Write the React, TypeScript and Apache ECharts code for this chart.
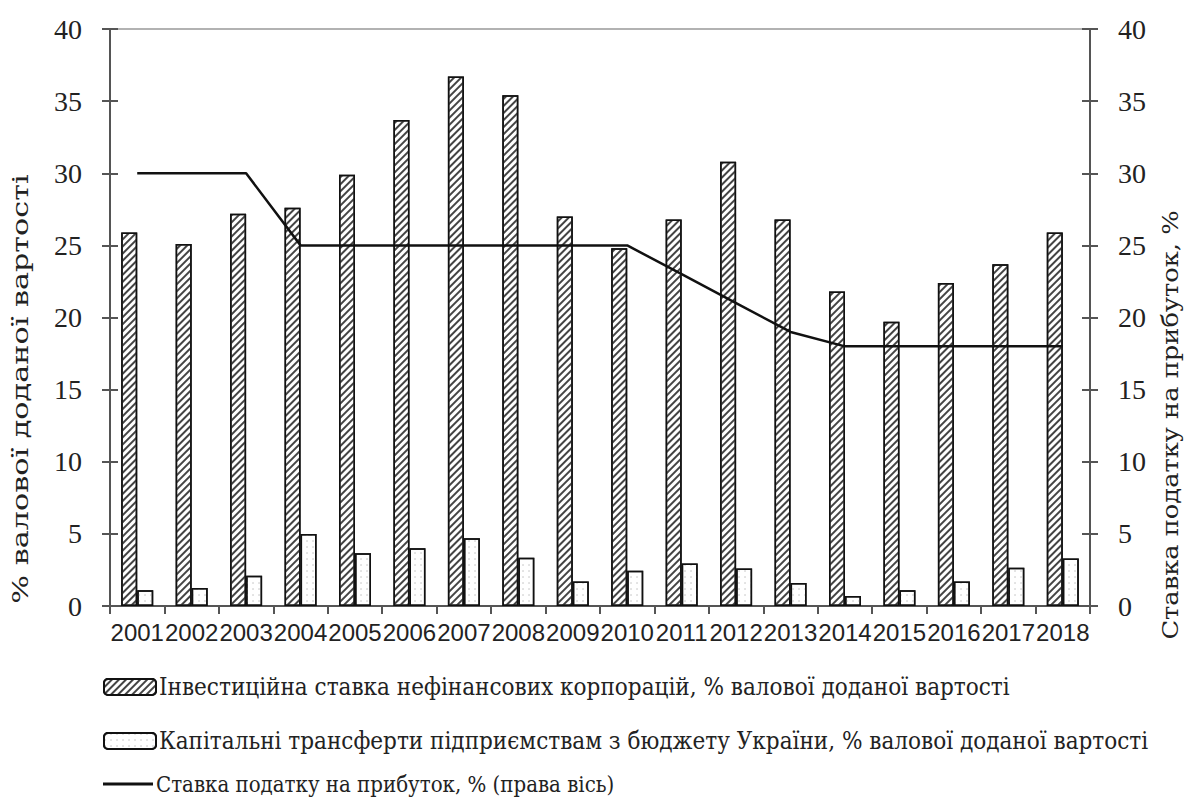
import React, { useEffect, useRef } from "react";
import * as echarts from "echarts";

const years = ["2001", "2002", "2003", "2004", "2005", "2006", "2007", "2008", "2009", "2010", "2011", "2012", "2013", "2014", "2015", "2016", "2017", "2018"];
const investmentRate = [25.9, 25.1, 27.2, 27.6, 29.9, 33.7, 36.7, 35.4, 27.0, 24.8, 26.8, 30.8, 26.8, 21.8, 19.7, 22.4, 23.7, 25.9];
const capitalTransfers = [1.1, 1.25, 2.1, 5.0, 3.65, 4.0, 4.7, 3.35, 1.7, 2.45, 2.95, 2.6, 1.6, 0.7, 1.1, 1.7, 2.65, 3.3];
const profitTaxRate = [30, 30, 30, 25, 25, 25, 25, 25, 25, 25, 23, 21, 19, 18, 18, 18, 18, 18];

const nameInvest = "Інвестиційна ставка нефінансових корпорацій, % валової доданої вартості";
const nameTransfers = "Капітальні трансферти підприємствам з бюджету України, % валової доданої вартості";
const nameTax = "Ставка податку на прибуток, % (права вісь)";
const leftAxisTitle = "% валової доданої вартості";
const rightAxisTitle = "Ставка податку на прибуток, %";

const SERIF = "Liberation Serif";
const SERIF_CYR = "DejaVu Serif Condensed, DejaVu Serif, serif";
const SANS = "Liberation Sans";

export default function App() {
  const ref = useRef<HTMLDivElement>(null);

  useEffect(() => {
    if (!ref.current) return;
    const chart = echarts.init(ref.current, null, { renderer: "svg" });

    const valueAxis = (position: "left" | "right", inner: boolean) => ({
      type: "value",
      position,
      min: 0,
      max: 40,
      interval: 5,
      splitLine: { show: false },
      axisLine: { show: !inner, lineStyle: { color: "#555", width: 2 } },
      axisTick: { show: true, inside: inner, length: 8, lineStyle: { color: "#555", width: 2 } },
      axisLabel: {
        show: !inner,
        margin: 28,
        color: "#222",
        fontFamily: SERIF,
        fontSize: 28,
      },
    });

    const legendBase = {
      left: 98,
      itemWidth: 52,
      itemHeight: 16,
      itemGap: 0,
      textStyle: { color: "#222", fontFamily: SERIF_CYR, fontSize: 24, padding: [0, 0, 0, -2] },
    };

    // Rotated axis titles, stretched along their length
    const axisTitle = (text: string, x: number, y: number, stretch: number) => ({
      type: "text",
      x,
      y,
      rotation: Math.PI / 2,
      scaleX: stretch,
      style: {
        text,
        fill: "#222",
        font: `22px "DejaVu Serif Condensed", "DejaVu Serif", serif`,
        align: "center",
        verticalAlign: "middle",
      },
    });

    chart.setOption({
      animation: false,
      backgroundColor: "#fff",
      grid: {
        left: 110,
        right: 96,
        top: 29,
        bottom: 197,
        show: true,
        borderColor: "#999",
        borderWidth: 1.5,
      },
      xAxis: {
        type: "category",
        data: years,
        axisLine: { lineStyle: { color: "#555", width: 2 } },
        axisTick: { show: true, interval: 0, length: 8, lineStyle: { color: "#555", width: 2 } },
        axisLabel: { interval: 0, margin: 14, color: "#222", fontFamily: SANS, fontSize: 24 },
      },
      yAxis: [
        valueAxis("left", false),
        valueAxis("right", false),
        valueAxis("left", true),
        valueAxis("right", true),
      ],
      legend: [
        { ...legendBase, data: [nameInvest], top: 670 },
        { ...legendBase, data: [nameTransfers], top: 724 },
        {
          ...legendBase,
          data: [{ name: nameTax, icon: "rect" }],
          top: 768,
          itemHeight: 3,
          itemWidth: 50,
          textStyle: { ...legendBase.textStyle, fontSize: 22 },
        },
      ],
      graphic: [
        axisTitle(leftAxisTitle, 21, 389, 1.53),
        axisTitle(rightAxisTitle, 1170, 425, 1.3),
      ],
      series: [
        {
          name: nameInvest,
          type: "bar",
          yAxisIndex: 0,
          data: investmentRate,
          barWidth: 16,
          barGap: "0%",
          itemStyle: {
            color: "#fff",
            borderColor: "#111",
            borderWidth: 1.5,
            decal: {
              symbol: "rect",
              symbolSize: 1,
              dashArrayX: [1, 0],
              dashArrayY: [2, 3],
              rotation: -Math.PI / 4,
              color: "#444",
            },
          },
        },
        {
          name: nameTransfers,
          type: "bar",
          yAxisIndex: 0,
          data: capitalTransfers,
          barWidth: 16,
          barGap: "0%",
          itemStyle: {
            color: "#fff",
            borderColor: "#111",
            borderWidth: 1.5,
            decal: {
              symbol: "circle",
              symbolSize: 0.7,
              dashArrayX: [2, 4],
              dashArrayY: [2, 4],
              color: "#bbb",
            },
          },
        },
        {
          name: nameTax,
          type: "line",
          yAxisIndex: 1,
          data: profitTaxRate,
          symbol: "none",
          lineStyle: { color: "#111", width: 2.5 },
          itemStyle: { color: "#111" },
        },
      ],
    });

    return () => chart.dispose();
  }, []);

  return (
    <div
      ref={ref}
      style={{ position: "fixed", left: 0, top: 0, width: 1186, height: 803 }}
    />
  );
}
